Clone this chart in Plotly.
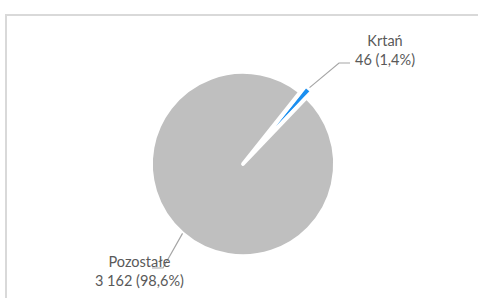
import math
import plotly.graph_objects as go

labels = ["Krtań", "Pozostałe"]
values = [46, 3162]
value_text = ["46", "3 162"]
pct_text = ["1,4%", "98,6%"]
colors = ["#1b8ff0", "#bfbfbf"]

W, H = 478, 298
CX, CY, R = 243, 164, 92
PULL = 0.09
ROT = 38.5

rr = R * (1 + PULL)
fig = go.Figure()
fig.add_trace(go.Pie(
    labels=labels, values=values, sort=False, direction="clockwise", rotation=ROT,
    pull=[PULL, 0], marker=dict(colors=colors, line=dict(color="white", width=3.8)),
    textinfo="none", hoverinfo="label+value+percent", showlegend=False,
    domain=dict(x=[(CX - rr) / W, (CX + rr) / W],
                y=[(H - CY - rr) / H, (H - CY + rr) / H]),
))

total = sum(values)
cum = 0
starts = []
for i, v in enumerate(values):
    mid = math.radians(ROT + 360 * (cum + v / 2) / total)
    cum += v
    rad = R * (1 + (PULL if i == 0 else 0)) + (1 if i == 0 else 0)
    starts.append((CX + rad * math.sin(mid), CY - rad * math.cos(mid)))

elbows = [((339, 63), (350, 63)), ((163, 268), (152, 268))]
label_pos = [(385, 50), (139, 271)]

line_col = "#a6a6a6"
for (sx, sy), ((ex, ey), (hx, hy)) in zip(starts, elbows):
    fig.add_shape(type="path", path=f"M {sx},{sy} L {ex},{ey} L {hx},{hy}",
                  xref="x", yref="y", line=dict(color=line_col, width=1.2))

for i, (lx, ly) in enumerate(label_pos):
    fig.add_annotation(x=lx, y=ly, xref="x", yref="y", showarrow=False,
                       text=f"{labels[i]}<br>{value_text[i]} ({pct_text[i]})",
                       font=dict(family="Lato, Open Sans, sans-serif", size=14.5, color="#595959"),
                       align="center")

fig.add_shape(type="rect", x0=6, y0=15, x1=W + 20, y1=H + 20, xref="x", yref="y",
              line=dict(color="#d9d9d9", width=2), layer="below")

fig.update_layout(
    width=W, height=H, margin=dict(l=0, r=0, t=0, b=0),
    paper_bgcolor="white", plot_bgcolor="rgba(0,0,0,0)",
    xaxis=dict(range=[0, W], visible=False, fixedrange=True),
    yaxis=dict(range=[H, 0], visible=False, fixedrange=True),
)
fig.write_html("out.html", config={"displayModeBar": False},
               post_script="document.body.style.margin='0';")
